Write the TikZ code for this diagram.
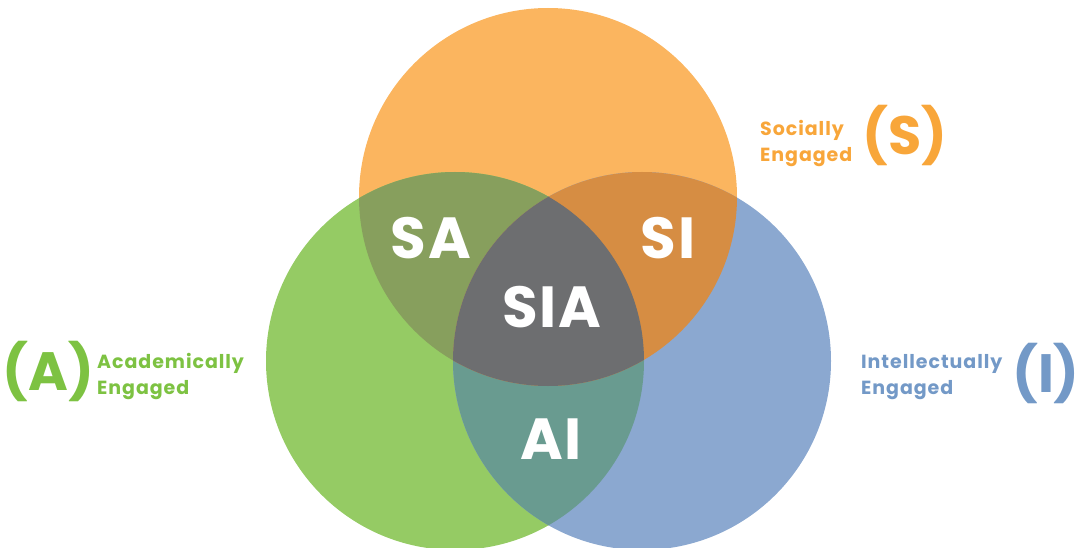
\documentclass[tikz,border=0pt]{standalone}
\usepackage{fontspec}
\setmainfont{Poppins}
\newfontfamily\labfont[LetterSpace=3]{Poppins}
\newfontfamily\capfont[LetterSpace=5]{Poppins}
\definecolor{cS}{HTML}{FBB55F}
\definecolor{cA}{HTML}{95CB64}
\definecolor{cI}{HTML}{8BA8D0}
\definecolor{cSA}{HTML}{879F5D}
\definecolor{cSI}{HTML}{D68D43}
\definecolor{cAI}{HTML}{699B90}
\definecolor{cSIA}{HTML}{6D6E70}
\definecolor{tA}{HTML}{7DC242}
\definecolor{tS}{HTML}{F8A63A}
\definecolor{tI}{HTML}{7399C7}
\tikzset{
  region/.style={inner sep=0pt, text=white, anchor=base,
    font=\fontsize{58}{58}\selectfont\bfseries\labfont},
  paren/.style={inner sep=0pt, anchor=base,
    font=\fontsize{54}{54}\selectfont\bfseries},
  caption/.style={inner sep=0pt, anchor=base west, align=left,
    font=\fontsize{19}{26}\selectfont\bfseries\capfont},
}
\begin{document}
\begin{tikzpicture}[x=1pt,y=-1pt]
\useasboundingbox (0,0) rectangle (1080,548);
% base circles
\fill[cS] (548,197) circle[radius=189];
\fill[cA] (455,361) circle[radius=189];
\fill[cI] (642,361) circle[radius=189];
% pairwise overlaps
\begin{scope}
  \clip (455,361) circle[radius=189];
  \fill[cSA] (548,197) circle[radius=189];
  \fill[cAI] (642,361) circle[radius=189];
\end{scope}
\begin{scope}
  \clip (548,197) circle[radius=189];
  \fill[cSI] (642,361) circle[radius=189];
\end{scope}
% triple overlap
\begin{scope}
  \clip (455,361) circle[radius=189];
  \clip (548,197) circle[radius=189];
  \fill[cSIA] (642,361) circle[radius=189];
\end{scope}
% region labels
\node[region] (sa) at (431,259) {SA};
\node[region] (si) at (668,259) {SI};
\node[region] (sia) at (552,328) {SIA};
\node[region] (ai) at (551,459) {AI};
% set labels
\node[paren, text=tA] (pa) at (48.5,390) {(A)};
\node[caption, text=tA] (la) at (97,395) {Academically\\Engaged};
\node[paren, text=tS] (ps) at (905,155) {(S)};
\node[caption, text=tS] (ls) at (760,162) {Socially\\Engaged};
\node[paren, text=tI] (pi) at (1046,392) {(I)};
\node[caption, text=tI] (li) at (861,395) {Intellectually\\Engaged};
\end{tikzpicture}
\end{document}
